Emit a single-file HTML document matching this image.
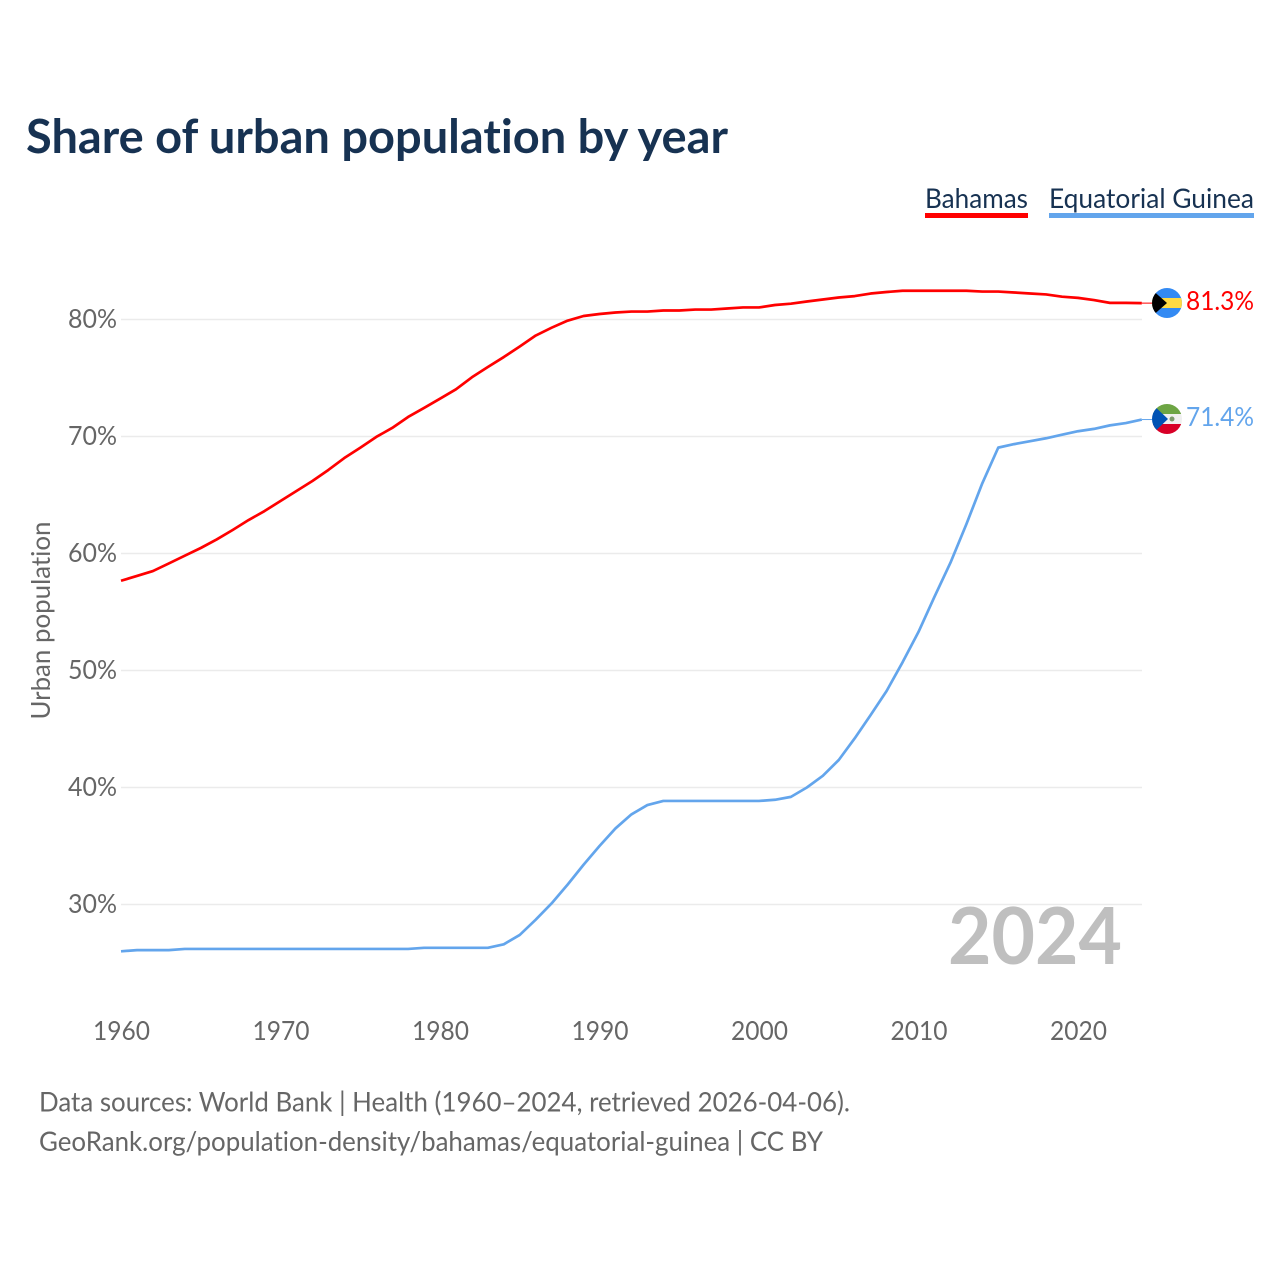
<!DOCTYPE html>
<html lang="en">
<head>
<meta charset="utf-8">
<title>Share of urban population by year</title>
<style>
html,body{margin:0;padding:0;background:#fff;width:1280px;height:1280px;overflow:hidden}
svg{display:block}
text{font-family:"Lato","Carlito","Liberation Sans",sans-serif;font-variant-ligatures:none;font-feature-settings:"liga" 0,"clig" 0}
</style>
</head>
<body>
<svg id="chart" xmlns="http://www.w3.org/2000/svg" width="1280" height="1280" viewBox="0 0 1280 1280">
  <text x="26" y="153" font-size="47" font-weight="700" fill="#173252" textLength="702" lengthAdjust="spacingAndGlyphs">Share of urban population by year</text>

  <g>
    <g>
      <text x="925" y="208" font-size="27" fill="#173252" textLength="103" lengthAdjust="spacingAndGlyphs">Bahamas</text>
      <rect x="925" y="213" width="103" height="5" fill="#ff0000"/>
    </g>
    <g>
      <text x="1049" y="208" font-size="27" fill="#173252" textLength="205" lengthAdjust="spacingAndGlyphs">Equatorial Guinea</text>
      <rect x="1049" y="213" width="205" height="5" fill="#63a5ec"/>
    </g>
  </g>

  <g id="grid"></g>
  <g id="yTicks"></g>
  <g id="xTicks"></g>

  <text transform="translate(50,620.5) rotate(-90)" text-anchor="middle" font-size="26" fill="#666666" textLength="198" lengthAdjust="spacingAndGlyphs">Urban population</text>

  <text x="948" y="964" font-size="79" font-weight="700" fill="#bfbfbf" textLength="174" lengthAdjust="spacingAndGlyphs">2024</text>

  <g id="series"></g>

  <defs>
    <clipPath id="flagClipA"><circle cx="1167" cy="303" r="15"/></clipPath>
    <clipPath id="flagClipB"><circle cx="1167" cy="419" r="15"/></clipPath>
  </defs>

  <g clip-path="url(#flagClipA)">
    <rect x="1152" y="288" width="30" height="30" fill="#338af3"/>
    <rect x="1152" y="298" width="30" height="10" fill="#ffda44"/>
    <polygon points="1150,288 1167,303 1150,318" fill="#000000"/>
  </g>
  <g clip-path="url(#flagClipB)">
    <rect x="1152" y="404" width="30" height="10" fill="#6da544"/>
    <rect x="1152" y="414" width="30" height="10" fill="#f0f0f0"/>
    <rect x="1152" y="424" width="30" height="10" fill="#d80027"/>
    <polygon points="1150,402 1168,419 1150,436" fill="#0052b4"/>
    <circle cx="1172" cy="419" r="2.5" fill="#7d9a6c"/>
  </g>

  <text x="1186" y="310" font-size="26" fill="#ff0000" textLength="68" lengthAdjust="spacingAndGlyphs">81.3%</text>
  <text x="1186" y="426" font-size="26" fill="#63a5ec" textLength="68" lengthAdjust="spacingAndGlyphs">71.4%</text>

  <text x="39" y="1111.5" font-size="27" fill="#666666" textLength="811" lengthAdjust="spacingAndGlyphs">Data sources: World Bank | Health (1960–2024, retrieved 2026-04-06).</text>
  <text x="39" y="1151" font-size="27" fill="#666666" textLength="784" lengthAdjust="spacingAndGlyphs">GeoRank.org/population-density/bahamas/equatorial-guinea | CC BY</text>
</svg>

<script>
const years = [1960,1961,1962,1963,1964,1965,1966,1967,1968,1969,1970,1971,1972,1973,1974,1975,1976,1977,1978,1979,1980,1981,1982,1983,1984,1985,1986,1987,1988,1989,1990,1991,1992,1993,1994,1995,1996,1997,1998,1999,2000,2001,2002,2003,2004,2005,2006,2007,2008,2009,2010,2011,2012,2013,2014,2015,2016,2017,2018,2019,2020,2021,2022,2023,2024];
const bahamas = [57.67,58.08,58.5,59.15,59.81,60.47,61.2,62.01,62.86,63.63,64.49,65.34,66.2,67.14,68.16,69.04,69.96,70.73,71.67,72.44,73.23,74.03,75.06,75.94,76.79,77.69,78.63,79.3,79.9,80.3,80.47,80.6,80.68,80.68,80.77,80.77,80.85,80.85,80.94,81.03,81.03,81.24,81.35,81.54,81.71,81.88,82.0,82.22,82.35,82.46,82.46,82.46,82.46,82.46,82.39,82.39,82.31,82.22,82.14,81.95,81.85,81.66,81.42,81.42,81.4];
const equatorialGuinea = [26.0,26.1,26.1,26.1,26.2,26.2,26.2,26.2,26.2,26.2,26.2,26.2,26.2,26.2,26.2,26.2,26.2,26.2,26.2,26.3,26.3,26.3,26.3,26.3,26.6,27.4,28.7,30.1,31.7,33.4,35.0,36.5,37.7,38.5,38.85,38.85,38.85,38.85,38.85,38.85,38.85,38.95,39.2,40.0,41.0,42.35,44.2,46.2,48.25,50.7,53.3,56.3,59.2,62.5,66.0,69.05,69.35,69.6,69.85,70.15,70.45,70.65,70.95,71.15,71.45];
const yTickValues = [30,40,50,60,70,80];
const xTickValues = [1960,1970,1980,1990,2000,2010,2020];

const NS = 'http://www.w3.org/2000/svg';
const xScale = function (yr) { return 121 + (yr - 1960) * 15.95; };
const yScale = function (v) { return 319.5 + (80 - v) * 11.7; };

const gridGroup = document.getElementById('grid');
const yTickGroup = document.getElementById('yTicks');
const xTickGroup = document.getElementById('xTicks');
const seriesGroup = document.getElementById('series');

yTickValues.forEach(function (v) {
  const line = document.createElementNS(NS, 'line');
  
  
  line.setAttribute('x1', 121);
  line.setAttribute('x2', 1142);
  line.setAttribute('y1', yScale(v));
  line.setAttribute('y2', yScale(v));
  line.setAttribute('stroke', '#ebebeb');
  line.setAttribute('stroke-width', '1.5');
  gridGroup.appendChild(line);

  const label = document.createElementNS(NS, 'text');
  
  
  label.setAttribute('x', 117);
  label.setAttribute('y', yScale(v) + 8.5);
  label.setAttribute('text-anchor', 'end');
  label.setAttribute('font-size', '26');
  label.setAttribute('fill', '#666666');
  label.setAttribute('textLength', '49');
  label.setAttribute('lengthAdjust', 'spacingAndGlyphs');
  label.textContent = v + '%';
  yTickGroup.appendChild(label);
});

xTickValues.forEach(function (yr) {
  const label = document.createElementNS(NS, 'text');
  
  
  label.setAttribute('x', xScale(yr) + 0.5);
  label.setAttribute('y', 1040);
  label.setAttribute('text-anchor', 'middle');
  label.setAttribute('font-size', '26');
  label.setAttribute('fill', '#666666');
  label.setAttribute('textLength', '57');
  label.setAttribute('lengthAdjust', 'spacingAndGlyphs');
  label.textContent = yr;
  xTickGroup.appendChild(label);
});

function pointsFor(values) {
  return values.map(function (v, i) {
    return xScale(years[i]).toFixed(2) + ',' + yScale(v).toFixed(2);
  }).join(' ');
}

const lineBahamas = document.createElementNS(NS, 'polyline');


lineBahamas.setAttribute('points', pointsFor(bahamas));
lineBahamas.setAttribute('fill', 'none');
lineBahamas.setAttribute('stroke', '#ff0000');
lineBahamas.setAttribute('stroke-width', '2.7');
lineBahamas.setAttribute('stroke-linejoin', 'round');
seriesGroup.appendChild(lineBahamas);

const lineGuinea = document.createElementNS(NS, 'polyline');


lineGuinea.setAttribute('points', pointsFor(equatorialGuinea));
lineGuinea.setAttribute('fill', 'none');
lineGuinea.setAttribute('stroke', '#63a5ec');
lineGuinea.setAttribute('stroke-width', '2.7');
lineGuinea.setAttribute('stroke-linejoin', 'round');
seriesGroup.appendChild(lineGuinea);

const lastX = xScale(years[years.length - 1]);

const leaderBahamas = document.createElementNS(NS, 'line');


leaderBahamas.setAttribute('x1', lastX);
leaderBahamas.setAttribute('x2', 1152);
leaderBahamas.setAttribute('y1', yScale(bahamas[bahamas.length - 1]));
leaderBahamas.setAttribute('y2', yScale(bahamas[bahamas.length - 1]));
leaderBahamas.setAttribute('stroke', '#ff0000');
leaderBahamas.setAttribute('stroke-width', '1');
seriesGroup.appendChild(leaderBahamas);

const leaderGuinea = document.createElementNS(NS, 'line');


leaderGuinea.setAttribute('x1', lastX);
leaderGuinea.setAttribute('x2', 1152);
leaderGuinea.setAttribute('y1', yScale(equatorialGuinea[equatorialGuinea.length - 1]));
leaderGuinea.setAttribute('y2', yScale(equatorialGuinea[equatorialGuinea.length - 1]));
leaderGuinea.setAttribute('stroke', '#63a5ec');
leaderGuinea.setAttribute('stroke-width', '1');
seriesGroup.appendChild(leaderGuinea);
</script>
</body>
</html>
